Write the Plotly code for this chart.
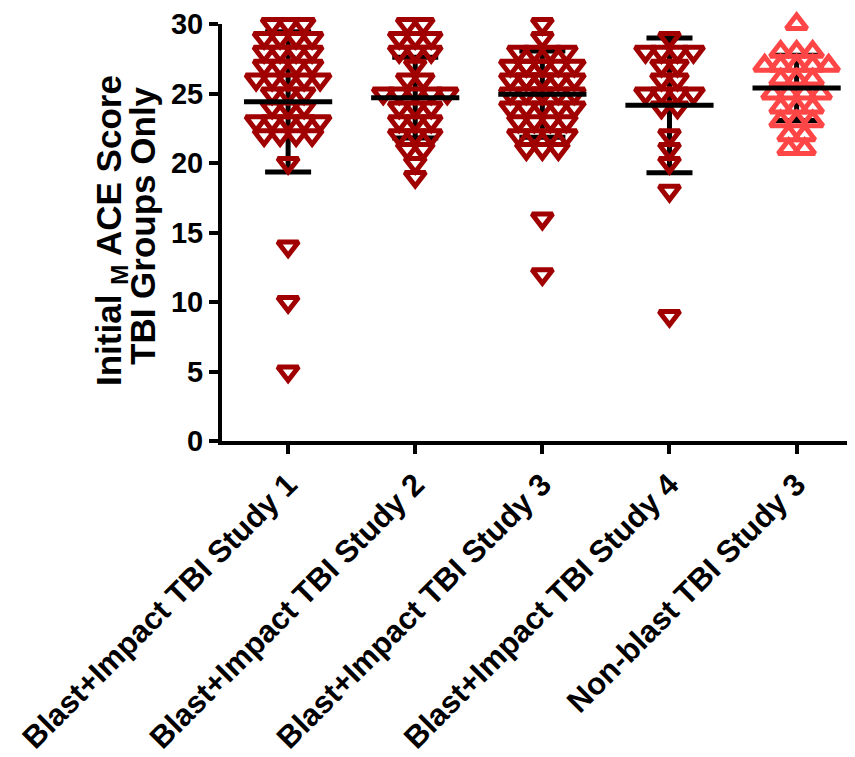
import plotly.graph_objects as go
import numpy as np

# ---- data ----
categories = [
    "Blast+Impact TBI Study 1",
    "Blast+Impact TBI Study 2",
    "Blast+Impact TBI Study 3",
    "Blast+Impact TBI Study 4",
    "Non-blast TBI Study 3",
]

study1_scores = [30]*3 + [29]*4 + [28]*4 + [27]*4 + [26]*5 + [25]*3 + [24]*3 + [23]*5 + [22]*4 + [20, 14, 10, 5]
study2_scores = [30]*2 + [29]*3 + [28]*3 + [27]*1 + [26]*2 + [25]*5 + [24]*3 + [23]*3 + [22]*3 + [21]*2 + [20, 19]
study3_scores = [30, 29] + [28]*4 + [27]*7 + [26]*7 + [25]*6 + [24]*5 + [23]*4 + [22]*4 + [21]*3 + [16, 12]
study4_scores = [29] + [28]*4 + [27]*2 + [26]*2 + [25]*4 + [24]*2 + [22, 21, 20, 18, 9]
nonblast3_scores = [30] + [28]*3 + [27]*5 + [26]*3 + [25]*4 + [24]*3 + [23]*3 + [22]*2 + [21]*2

group_means = [24.4, 24.7, 24.95, 24.15, 25.4]
group_sds = [5.05, 2.9, 3.1, 4.85, 2.35]

y_ticks = [0, 5, 10, 15, 20, 25, 30]
y_title_lines = ["Initial <sub>M</sub> ACE Score", "TBI Groups Only"]

series = [study1_scores, study2_scores, study3_scores, study4_scores, nonblast3_scores]

# ---- styling ----
DARK = "#A00000"
LIGHT = "#FF4646"
colors = [DARK, DARK, DARK, DARK, LIGHT]
symbols = ["triangle-down-open"]*4 + ["triangle-up-open"]
FONT = "Arial, 'Liberation Sans', sans-serif"

# the page body adds an 8px offset, so the figure is 8px smaller each way
W, H = 847, 749
L, R, T, B = 214, 5, 16, 316
xr = [-0.52, 4.42]
plot_w = W - L - R
plot_h = H - T - B
px_per_unit = plot_w / (xr[1] - xr[0])
step = 16 / px_per_unit  # horizontal spread between points sharing a value


def spread(values, center):
    xs = []
    vals = np.array(values)
    for v in sorted(set(values), reverse=True):
        n = int((vals == v).sum())
        if n <= 5:
            offs = [(i - (n - 1) / 2) for i in range(n)]
        else:
            order = [0, -1, 1, -2, 2]
            offs = [order[i % 5] for i in range(n)]
        for o in offs:
            xs.append((center + o * step, v))
    return xs

fig = go.Figure()

# error bars (SD) beneath points
fig.add_trace(go.Scatter(
    x=list(range(len(categories))), y=group_means, mode="markers",
    marker=dict(size=1, color="rgba(0,0,0,0)"),
    error_y=dict(type="data", array=group_sds, visible=True, color="black",
                 thickness=5, width=23),
    hoverinfo="skip", showlegend=False, cliponaxis=False,
))

for i, vals in enumerate(series):
    pts = spread(vals, i)
    fig.add_trace(go.Scatter(
        x=[p[0] for p in pts], y=[p[1] for p in pts], mode="markers",
        marker=dict(symbol=symbols[i], size=18, color=colors[i],
                    line=dict(width=5, color=colors[i])),
        showlegend=False, cliponaxis=False,
    ))

# mean lines on top (line-ew length = 1.4 * size -> ~88px)
fig.add_trace(go.Scatter(
    x=list(range(len(categories))), y=group_means, mode="markers",
    marker=dict(symbol="line-ew", size=63, color="black",
                line=dict(width=5, color="black")),
    showlegend=False, cliponaxis=False,
))

# y-axis title as two tightly spaced rotated lines (page pixel positions)
title_font = dict(family=FONT, size=35, color="black", weight="bold")
title_px = [(111, 231), (142, 226)]
for (px, py), txt in zip(title_px, y_title_lines):
    fig.add_annotation(
        text=txt, textangle=-90, showarrow=False,
        xref="paper", yref="paper",
        x=(px - 8 - L) / plot_w, y=(T + plot_h - (py - 8)) / plot_h,
        xanchor="center", yanchor="middle", font=title_font,
    )

fig.update_layout(
    width=W, height=H,
    margin=dict(l=L, r=R, t=T, b=B, autoexpand=False),
    paper_bgcolor="white", plot_bgcolor="white",
    font=dict(family=FONT, size=24, color="black", weight="bold"),
)
fig.update_xaxes(
    range=xr, tickvals=list(range(len(categories))), ticktext=categories,
    tickangle=-45, showline=True, linewidth=4, linecolor="black",
    ticks="outside", ticklen=9, tickwidth=4, tickcolor="black",
    showgrid=False, zeroline=False, automargin=False,
    tickfont=dict(family=FONT, size=31, color="black", weight="bold"),
)
fig.update_yaxes(
    range=[0, 30], tickvals=y_ticks,
    showline=True, linewidth=4, linecolor="black",
    ticks="outside", ticklen=9, tickwidth=4, tickcolor="black",
    showgrid=False, zeroline=False, automargin=False,
    tickfont=dict(family=FONT, size=29, color="black", weight="bold"),
)

fig.write_html("out.html")
